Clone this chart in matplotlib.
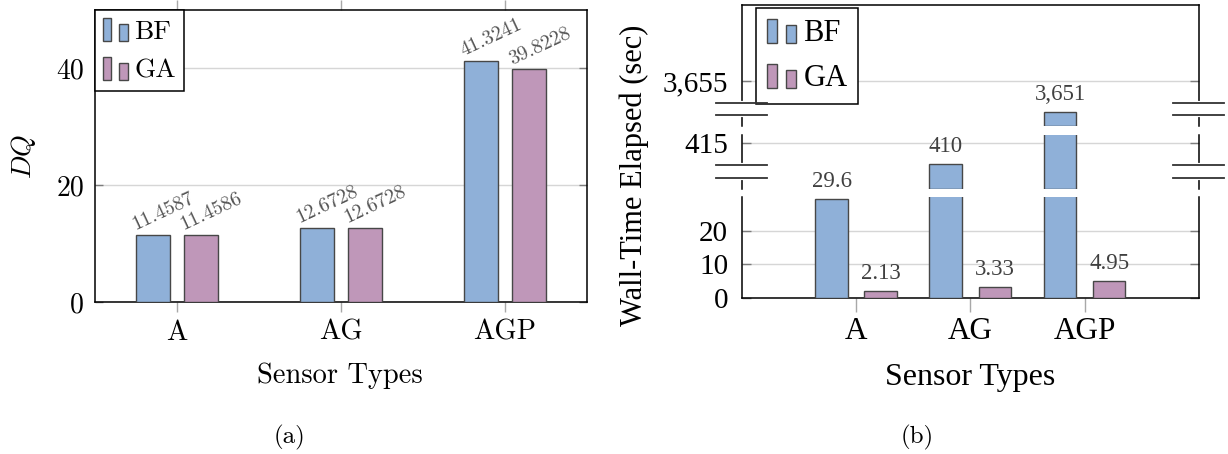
import matplotlib
matplotlib.use('Agg')
import matplotlib.pyplot as plt
import numpy as np
from matplotlib.patches import Rectangle
from matplotlib.lines import Line2D
from matplotlib.legend_handler import HandlerBase

plt.rcParams['mathtext.fontset'] = 'cm'
plt.rcParams['axes.formatter.use_mathtext'] = True

# data
sensors = ['A', 'AG', 'AGP']
methods = ['BF', 'GA']
dq_bf = [11.4587, 12.6728, 41.3241]
dq_ga = [11.4586, 12.6728, 39.8228]
time_bf = [29.6, 410, 3651]
time_ga = [2.13, 3.33, 4.95]
dq_ticks = [0, 20, 40]
# broken y axis: (limits, ticks) for top, middle and bottom band
time_bands = [((3649.3, 3664.75), [3655]),
              ((404.2, 417.0), [415]),
              ((0, 30), [0, 10, 20])]

blue = '#8fb0d8'
purple = '#bf97b9'
edge = '#474747'
grid_c = '#d6d6d6'
tick_c = '#7c7c7c'
cm = 'cmr10'
serif = 'Liberation Serif'

W, H = 1228, 454
fig = plt.figure(figsize=(W / 100, H / 100), dpi=100)


def box(x0, y0, x1, y1):
    # pixel box, origin top-left -> figure fraction rect
    return [x0 / W, 1 - y1 / H, (x1 - x0) / W, (y1 - y0) / H]


def fx(x, y):
    return x / W, 1 - y / H


class TwoBars(HandlerBase):
    # ybar style legend image: two small bars of different height
    def create_artists(self, legend, orig, xd, yd, width, height, fontsize, trans):
        fc = orig.get_facecolor()
        w = width * 0.34
        r1 = Rectangle((-xd, -yd), w, height, fc=fc, ec=edge, lw=1, transform=trans)
        r2 = Rectangle((-xd + width - w, -yd), w, height * 0.75, fc=fc, ec=edge, lw=1,
                       transform=trans)
        return [r1, r2]


def add_legend(ax, anchor, size, family, hl, hh, pad):
    hs = [Rectangle((0, 0), 1, 1, fc=c) for c in (blue, purple)]
    leg = ax.legend(hs, methods, loc='upper left', bbox_to_anchor=anchor, borderaxespad=0,
                    prop={'family': family, 'size': size}, handler_map={h: TwoBars() for h in hs},
                    handlelength=hl, handleheight=hh, handletextpad=0.25, borderpad=pad,
                    labelspacing=0.5, fancybox=False, framealpha=1)
    leg.get_frame().set_edgecolor('black')
    leg.get_frame().set_linewidth(1.1)
    leg.set_zorder(10)
    return leg


x = np.arange(len(sensors))

# ---- (a) DQ ----
ax1 = fig.add_axes(box(95, 10, 587, 302))
bw, sh = 0.212, 0.147
ax1.bar(x - sh, dq_bf, bw, color=blue, edgecolor=edge, lw=1, zorder=3)
ax1.bar(x + sh, dq_ga, bw, color=purple, edgecolor=edge, lw=1, zorder=3)
for off, vals in ((-sh, dq_bf), (sh, dq_ga)):
    for i, v in enumerate(vals):
        ax1.annotate(f'{v:.4f}', xy=(i + off - bw / 2, v), xytext=(0, 3.5),
                     textcoords='offset points', rotation=25, rotation_mode='anchor',
                     ha='left', va='baseline', fontsize=14.5, family=cm, color='#555555')
ax1.set_xlim(-0.5, 2.5)
ax1.set_ylim(0, 50)
ax1.set_yticks(dq_ticks, [str(t) for t in dq_ticks], family=cm, size=20)
ax1.set_xticks(x, sensors, family=cm, size=20.5)
ax1.yaxis.grid(True, color=grid_c, lw=1)
ax1.set_axisbelow(True)
ax1.tick_params(axis='y', direction='in', length=6, width=1, color=tick_c,
                left=True, right=True, pad=8)
ax1.tick_params(axis='x', direction='out', length=7.5, width=1, color='#a8a8a8',
                top=True, bottom=True, pad=5)
for s in ax1.spines.values():
    s.set_linewidth(1.1)
add_legend(ax1, (0, 1), 19.5, cm, 0.9, 0.9, 0.3)
fig.text(*fx(23, 156), '$DQ$', rotation=90, ha='center', va='center', size=20)
fig.text(*fx(340, 383), 'Sensor Types', family=cm, size=20.5, ha='center', va='baseline')
fig.text(*fx(289, 437), '(a)', family=cm, size=18, ha='center', va='center')

# ---- (b) wall time, broken axis ----
axT = fig.add_axes(box(742, 4.7, 1198.7, 125.5))
axM = fig.add_axes(box(742, 134.5, 1198.7, 189))
axB = fig.add_axes(box(742, 197.3, 1198.7, 297.7))
bw2, sh2 = 0.287, 0.215
for ax, ((lo, hi), ticks) in zip((axT, axM, axB), time_bands):
    for off, vals, c in ((-sh2, time_bf, blue), (sh2, time_ga, purple)):
        idx = [i for i, v in enumerate(vals) if v > lo]
        ax.bar([i + off for i in idx], [vals[i] - lo for i in idx], bw2, bottom=lo,
               color=c, edgecolor=edge, lw=1, zorder=3)
        for i in idx:
            if vals[i] <= hi:
                ax.annotate(f'{vals[i]:,}', xy=(i + off, vals[i]), xytext=(0, 8.5),
                            textcoords='offset points', ha='center', va='baseline',
                            fontsize=16.5, family=serif, color='#404040',
                            annotation_clip=False)
    ax.set_xlim(-1, 3)
    ax.set_ylim(lo, hi)
    ax.set_yticks(ticks, [f'{t:,}' for t in ticks], family=serif, size=21)
    ax.yaxis.grid(True, color=grid_c, lw=1)
    ax.set_axisbelow(True)
    ax.tick_params(axis='y', direction='in', length=6.5, width=1, color=tick_c,
                   left=True, right=True, pad=10)
    for s in ax.spines.values():
        s.set_linewidth(1.1)
    ax.patch.set_alpha(0)

axT.spines['bottom'].set_visible(False)
axM.spines['top'].set_visible(False)
axM.spines['bottom'].set_visible(False)
axB.spines['top'].set_visible(False)
for ax in (axT, axM):
    ax.set_xticks([])
axB.set_xticks(x, sensors, family=serif, size=22.5)
axB.tick_params(axis='x', direction='out', length=10, width=1, color='#a8a8a8', pad=4)

# break symbols on both spines
for y0, y1 in [(102.7, 115.3), (165.0, 177.7)]:
    for sx in (742, 1198.7):
        fig.add_artist(Line2D([sx / W] * 2, [1 - y0 / H, 1 - y1 / H], color='white', lw=3,
                              transform=fig.transFigure, zorder=20))
        for yy in (y0, y1):
            fig.add_artist(Line2D([(sx - 26) / W, (sx + 25) / W], [1 - yy / H] * 2,
                                  color='#333333', lw=1.3, transform=fig.transFigure, zorder=21))

add_legend(axT, (0.031, 0.973), 22, serif, 0.95, 0.85, 0.35)
fig.text(*fx(634, 175), 'Wall-Time Elapsed (sec)', family=serif, size=22, rotation=90,
         ha='center', va='center')
fig.text(*fx(970, 385), 'Sensor Types', family=serif, size=23, ha='center', va='baseline')
fig.text(*fx(917, 437), '(b)', family=cm, size=18, ha='center', va='center')

fig.savefig('out.png', dpi=100)
